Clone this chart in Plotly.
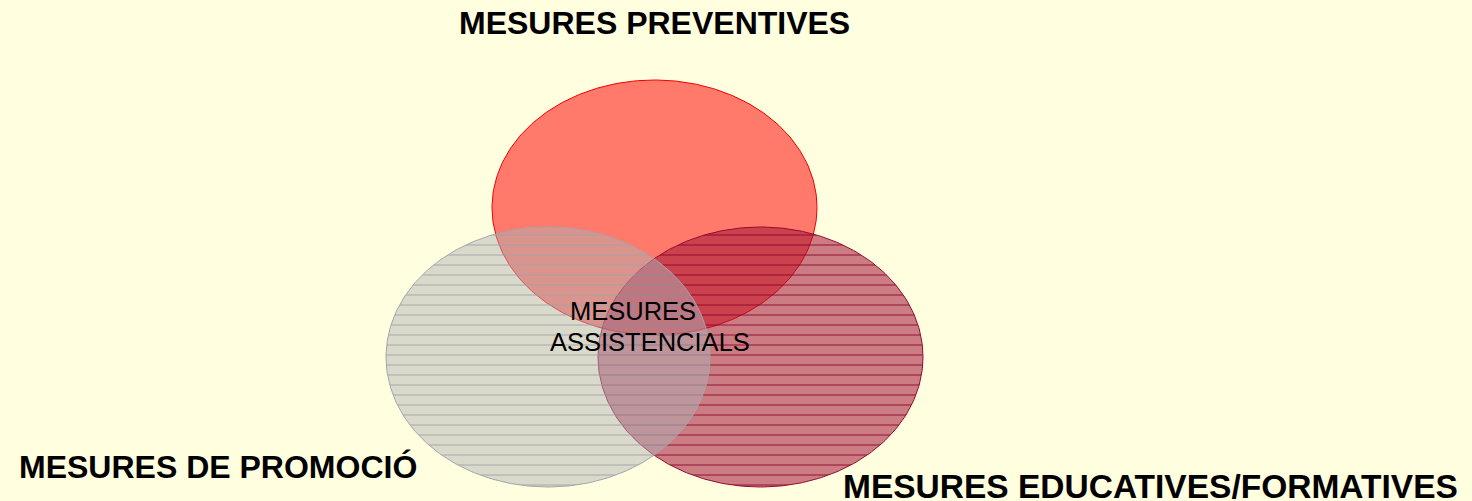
import numpy as np
import plotly.graph_objects as go

# Data
labels = ["MESURES PREVENTIVES", "MESURES EDUCATIVES/FORMATIVES", "MESURES DE PROMOCIÓ"]
center_x = [654.5, 760.5, 548.0]
center_y = [207.5, 357.0, 357.0]
radius_x = [162.5, 162.5, 162.0]
radius_y = [127.5, 130.0, 130.0]
center_label_lines = ["MESURES", "ASSISTENCIALS"]

# Layout / style
label_x = [654.5, 1150.0, 218.0]
label_y = [23.0, 486.5, 467.0]
label_sizes = [32, 33.5, 32]
center_line_x = [633.0, 650.0]
center_line_y = [311.0, 342.0]
fill_colors = ["rgb(255,122,106)", "rgba(160,18,55,0.55)", "rgba(174,174,182,0.48)"]
line_colors = ["rgb(240,0,0)", "rgb(150,10,50)", "rgb(165,165,170)"]
pattern_colors = [None, "rgba(140,0,40,0.75)", "rgba(160,160,168,0.7)"]
FONT = "Liberation Sans, Arial, sans-serif"

W, H = 1472, 501
t = np.linspace(0, 2 * np.pi, 361)

fig = go.Figure()
for i in range(3):
    xs = center_x[i] + radius_x[i] * np.cos(t)
    ys = center_y[i] + radius_y[i] * np.sin(t)
    kw = {}
    if pattern_colors[i]:
        kw["fillpattern"] = dict(shape="-", fgcolor=pattern_colors[i], bgcolor=fill_colors[i],
                                 size=10, solidity=0.12, fillmode="replace")
    fig.add_trace(go.Scatter(x=xs, y=ys, mode="lines", fill="toself",
                             fillcolor=fill_colors[i],
                             line=dict(color=line_colors[i], width=1),
                             hoverinfo="skip", showlegend=False, **kw))

for i in range(3):
    fig.add_annotation(x=label_x[i], y=label_y[i], text="<b>" + labels[i] + "</b>",
                       showarrow=False, xanchor="center", yanchor="middle",
                       font=dict(family=FONT, size=label_sizes[i], color="black"))

for txt, x, y in zip(center_label_lines, center_line_x, center_line_y):
    fig.add_annotation(x=x, y=y, text=txt, showarrow=False, xanchor="center", yanchor="middle",
                       font=dict(family=FONT, size=25.5, color="black"))

fig.update_xaxes(range=[0, W], visible=False, showgrid=False, zeroline=False)
fig.update_yaxes(range=[H, 0], visible=False, showgrid=False, zeroline=False)
fig.update_layout(width=W, height=H, margin=dict(l=0, r=0, t=0, b=0),
                  paper_bgcolor="rgb(255,255,224)", plot_bgcolor="rgb(255,255,224)",
                  showlegend=False)

fig.write_html("out.html", config={"displayModeBar": False},
               post_script="document.body.style.margin='0';document.body.style.background='rgb(255,255,224)';")
